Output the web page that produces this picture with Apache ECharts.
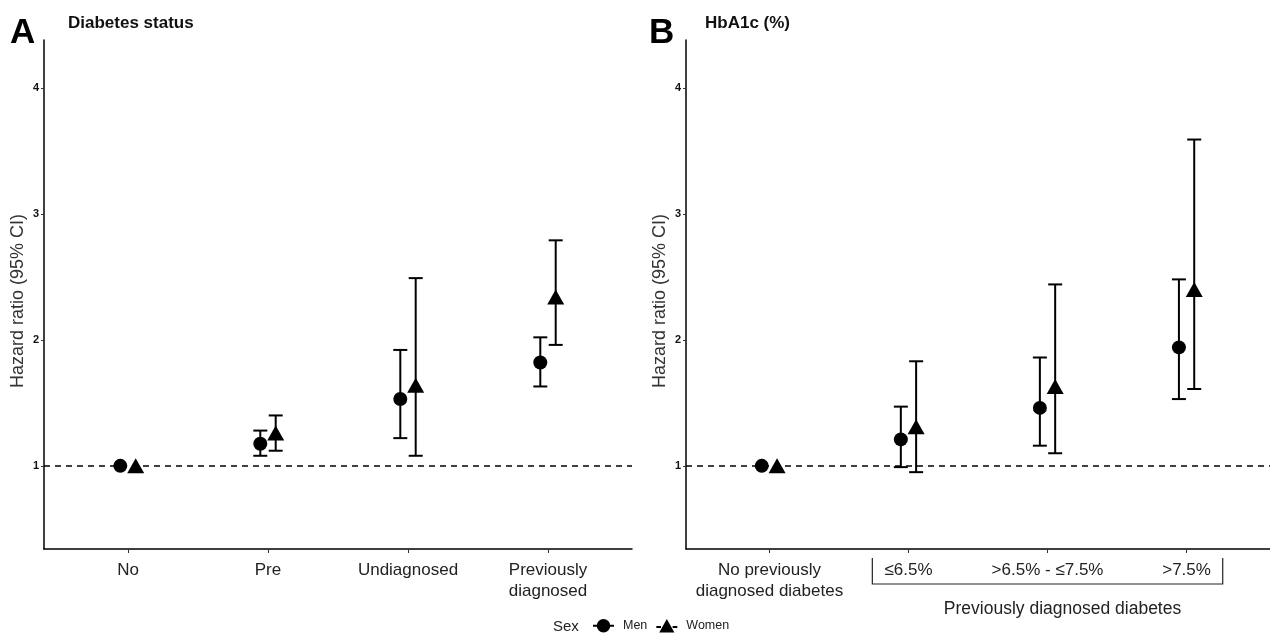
<!DOCTYPE html>
<html>
<head>
<meta charset="utf-8">
<script src="https://cdn.jsdelivr.net/npm/echarts@6/dist/echarts.min.js"></script>
<style>html,body{margin:0;padding:0;background:#fff}#c{width:1270px;height:637px}</style>
</head>
<body>
<div id="c"></div>
<script>
// ---------- data ----------
const catsA = ['No', 'Pre', 'Undiagnosed', 'Previously\ndiagnosed'];
const menA = [1.0, 1.175, 1.53, 1.82];
const menA_lo = [null, 1.08, 1.22, 1.63];
const menA_hi = [null, 1.28, 1.92, 2.02];
const womenA = [1.0, 1.26, 1.64, 2.34];
const womenA_lo = [null, 1.12, 1.08, 1.96];
const womenA_hi = [null, 1.40, 2.49, 2.79];

const catsB = ['No previously\ndiagnosed diabetes', '≤6.5%', '>6.5% - ≤7.5%', '>7.5%'];
const menB = [1.0, 1.21, 1.46, 1.94];
const menB_lo = [null, 0.99, 1.16, 1.53];
const menB_hi = [null, 1.47, 1.86, 2.48];
const womenB = [1.0, 1.31, 1.63, 2.40];
const womenB_lo = [null, 0.95, 1.10, 1.61];
const womenB_hi = [null, 1.83, 2.44, 3.59];

const yTicks = [1, 2, 3, 4];
const xTicks = [1, 2, 3, 4];
const groupBracket = [1.74, 4.26];
const groupLabel = 'Previously diagnosed diabetes';

// ---------- helpers ----------
const DODGE = 0.055;
const Y_MIN = 0.34, Y_MAX = 4.38;
const FONT = 'Liberation Sans, Arial, sans-serif';
function pts(vals, off) { return vals.map((v, i) => [i + 1 + off, v]); }
function errs(lo, hi, off) {
  return lo.map((l, i) => l == null ? null : [i + 1 + off, l, hi[i]]).filter(Boolean);
}
function errRender(params, api) {
  const x = api.value(0);
  const p1 = api.coord([x, api.value(1)]);
  const p2 = api.coord([x, api.value(2)]);
  const hw = 7;
  const st = { stroke: '#000', lineWidth: 2 };
  return {
    type: 'group',
    children: [
      { type: 'line', shape: { x1: p1[0], y1: p1[1], x2: p2[0], y2: p2[1] }, style: st },
      { type: 'line', shape: { x1: p1[0] - hw, y1: p1[1], x2: p1[0] + hw, y2: p1[1] }, style: st },
      { type: 'line', shape: { x1: p2[0] - hw, y1: p2[1], x2: p2[0] + hw, y2: p2[1] }, style: st }
    ]
  };
}
function bracketRender(params, api) {
  const a = api.coord([api.value(0), Y_MIN]);
  const b = api.coord([api.value(1), Y_MIN]);
  const y0 = a[1] + 9, y1 = a[1] + 35;
  return {
    type: 'group',
    children: [
      { type: 'polyline', shape: { points: [[a[0], y0], [a[0], y1], [b[0], y1], [b[0], y0]] },
        style: { stroke: '#222', lineWidth: 1.2, fill: null } },
      { type: 'text', style: { text: groupLabel, x: (a[0] + b[0]) / 2 + 15, y: y1 + 25,
        align: 'center', verticalAlign: 'middle', fontSize: 17.5, fontFamily: FONT, fill: '#222' } }
    ]
  };
}
const menIcon = 'path://M0,7.2h4v1.6h-4z M3.2,8 A5.8,5.8 0 1 1 14.8,8 A5.8,5.8 0 1 1 3.2,8z M14,7.2h4v1.6h-4z';
const womenIcon = 'path://M0,8h4v1.6h-4z M9,2 L15.5,13.5 L2.5,13.5z M14,8h4v1.6h-4z';

function xAxisFor(i, cats) {
  return {
    gridIndex: i, type: 'value', min: 0.4, max: 4.6,
    splitLine: { show: false },
    axisLine: { show: true, lineStyle: { color: '#000', width: 1.5 } },
    axisTick: { show: true, customValues: xTicks, length: 4, lineStyle: { color: '#333', width: 1 } },
    axisLabel: { customValues: xTicks, formatter: v => cats[Math.round(v) - 1], fontSize: 17,
      color: '#222', lineHeight: 21, margin: 11, fontFamily: FONT }
  };
}
function yAxisFor(i) {
  return {
    gridIndex: i, type: 'value', min: Y_MIN, max: Y_MAX,
    name: 'Hazard ratio (95% CI)', nameLocation: 'middle', nameGap: 17,
    nameTextStyle: { fontSize: 18, color: '#333', fontFamily: FONT, padding: [0, 13, 0, 0] },
    splitLine: { show: false },
    axisLine: { show: true, lineStyle: { color: '#000', width: 1.5 } },
    axisTick: { show: true, customValues: yTicks, length: 3, lineStyle: { color: '#333' } },
    axisLabel: { customValues: yTicks, fontSize: 11, fontWeight: 'bold', color: '#111', margin: 5, fontFamily: FONT }
  };
}
function refLine() {
  return {
    silent: true, symbol: ['none', 'none'], label: { show: false },
    lineStyle: { color: '#000', type: [6, 5], width: 1.5, opacity: 1 },
    data: [{ yAxis: 1 }]
  };
}
function seriesFor(i, men, women, mlo, mhi, wlo, whi) {
  return [
    { type: 'custom', xAxisIndex: i, yAxisIndex: i, renderItem: errRender, data: errs(mlo, mhi, -DODGE), z: 1, silent: true },
    { type: 'custom', xAxisIndex: i, yAxisIndex: i, renderItem: errRender, data: errs(wlo, whi, DODGE), z: 1, silent: true },
    { name: 'Men', type: 'scatter', xAxisIndex: i, yAxisIndex: i, symbol: 'circle', symbolSize: 14,
      itemStyle: { color: '#000', opacity: 1 }, data: pts(men, -DODGE), z: 3, markLine: refLine() },
    { name: 'Women', type: 'scatter', xAxisIndex: i, yAxisIndex: i, symbol: 'triangle', symbolSize: [17, 15],
      itemStyle: { color: '#000', opacity: 1 }, data: pts(women, DODGE), z: 3 }
  ];
}

const chart = echarts.init(document.getElementById('c'), null, { renderer: 'canvas' });
chart.setOption({
  animation: false,
  backgroundColor: '#fff',
  textStyle: { fontFamily: FONT },
  title: [
    { text: 'A', left: 10, top: 16, padding: 0, textStyle: { fontSize: 35, fontWeight: 'bold', color: '#000', fontFamily: FONT } },
    { text: 'Diabetes status', left: 68, top: 15, padding: 0, textStyle: { fontSize: 17, fontWeight: 'bold', color: '#111', fontFamily: FONT } },
    { text: 'B', left: 649, top: 16, padding: 0, textStyle: { fontSize: 35, fontWeight: 'bold', color: '#000', fontFamily: FONT } },
    { text: 'HbA1c (%)', left: 705, top: 15, padding: 0, textStyle: { fontSize: 17, fontWeight: 'bold', color: '#111', fontFamily: FONT } },
    { text: 'Sex', left: 553, top: 619, padding: 0, textStyle: { fontSize: 15, fontWeight: 'normal', color: '#222', fontFamily: FONT } }
  ],
  legend: {
    left: 593, top: 619, padding: 0, itemWidth: 21, itemHeight: 14, itemGap: 9,
    textStyle: { fontSize: 12.5, color: '#222', fontFamily: FONT, padding: [0, 0, 0, 4] },
    data: [{ name: 'Men', icon: menIcon }, { name: 'Women', icon: womenIcon }]
  },
  grid: [
    { left: 44, right: 638, top: 40, bottom: 88 },
    { left: 686, right: -9, top: 40, bottom: 88 }
  ],
  xAxis: [xAxisFor(0, catsA), xAxisFor(1, catsB)],
  yAxis: [yAxisFor(0), yAxisFor(1)],
  series: [
    ...seriesFor(0, menA, womenA, menA_lo, menA_hi, womenA_lo, womenA_hi),
    ...seriesFor(1, menB, womenB, menB_lo, menB_hi, womenB_lo, womenB_hi),
    { type: 'custom', xAxisIndex: 1, yAxisIndex: 1, renderItem: bracketRender, clip: false, silent: true,
      data: [groupBracket], z: 1 }
  ]
});
</script>
</body>
</html>
